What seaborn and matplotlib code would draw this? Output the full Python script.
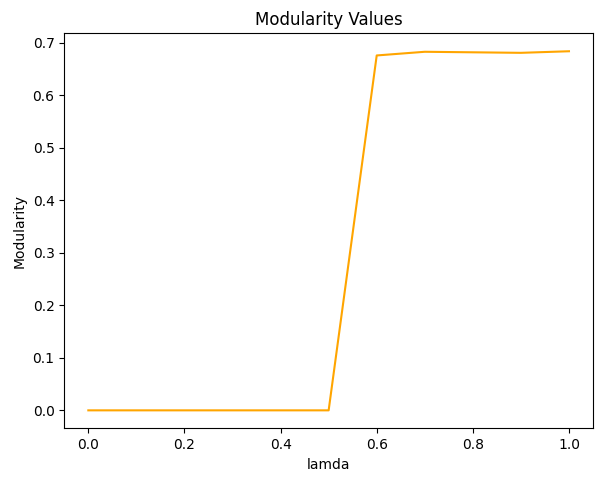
import matplotlib
matplotlib.use("Agg")
import matplotlib.pyplot as plt
import seaborn as sns
import pandas as pd

lamda = [0.0, 0.1, 0.2, 0.3, 0.4, 0.5, 0.6, 0.7, 0.8, 0.9, 1.0]
modularity = [0.0, 0.0, 0.0, 0.0, 0.0, 0.0, 0.676, 0.683, 0.682, 0.681, 0.684]

df = pd.DataFrame({"lamda": lamda, "Modularity": modularity})

fig = plt.figure(figsize=(5.96, 4.79), dpi=100)
ax = fig.add_axes([64.3 / 596, 1 - 428.3 / 479, (593 - 64.3) / 596, (428.3 - 33.3) / 479])
sns.lineplot(data=df, x="lamda", y="Modularity", color="orange", ax=ax)
ax.set_title("Modularity Values")
ax.set_xlabel("lamda")
ax.set_ylabel("Modularity")
fig.savefig("out.png", dpi=100)
